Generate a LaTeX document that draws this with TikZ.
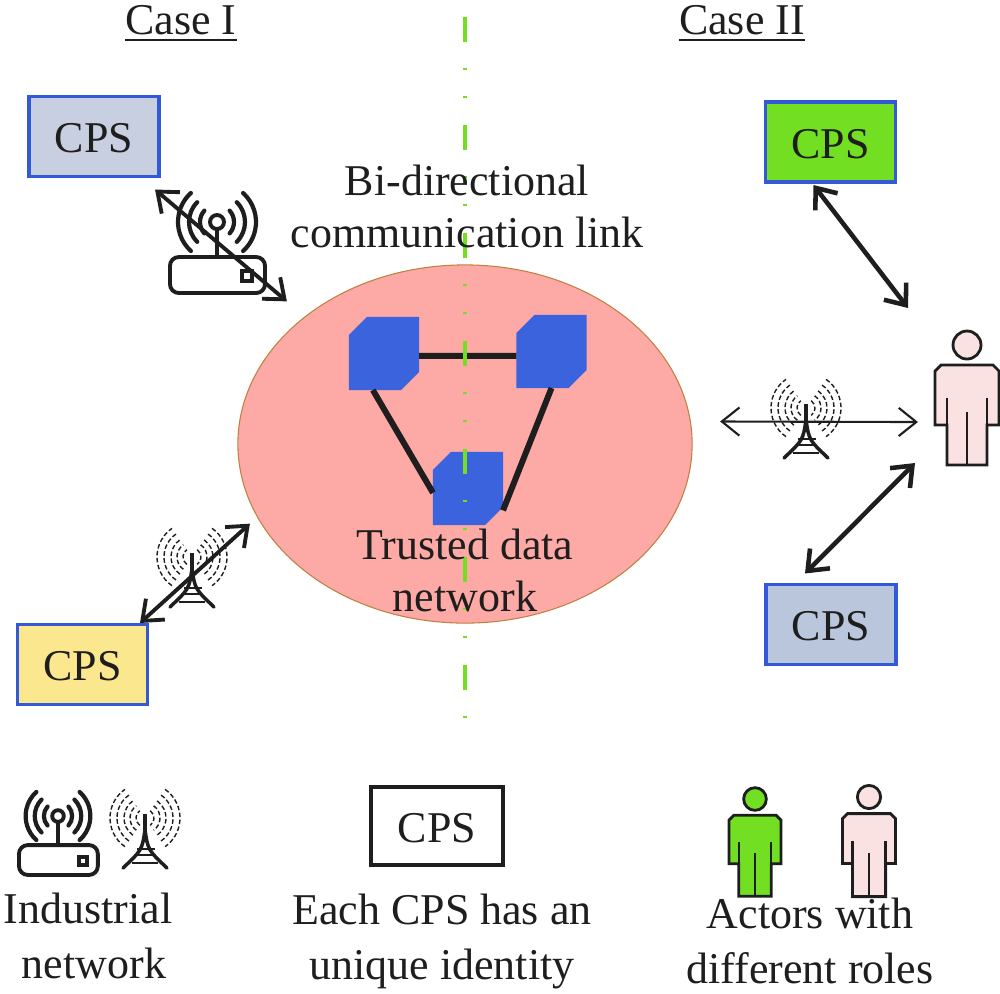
\documentclass[tikz,border=0pt]{standalone}
\usepackage{fontspec}
\setmainfont{Liberation Serif}
\usetikzlibrary{arrows.meta, shapes.geometric}
\definecolor{cpsblue}{HTML}{3459D8}
\definecolor{netblue}{HTML}{3B63DE}
\definecolor{roleGreen}{HTML}{72DF22}
\definecolor{rolePink}{HTML}{FAE2E2}
\definecolor{netPink}{HTML}{FDA9A5}
\definecolor{cpsGray}{HTML}{C8CFE0}
\definecolor{cpsSteel}{HTML}{BAC6DC}
\definecolor{cpsYellow}{HTML}{FAE78E}
\definecolor{ink}{HTML}{1E1E1E}
\tikzset{
  cpsbox/.style={draw=cpsblue, line width=1pt, minimum width=1.3cm, minimum height=.8cm, inner sep=0pt, outer sep=0pt, text height=9.4pt, font=\fontsize{12.5}{14.8}\selectfont, text=ink},
  netnode/.style={minimum width=.7cm, minimum height=.73cm, inner sep=0pt, outer sep=0pt},
  txt/.style={font=\fontsize{12.5}{14.8}\selectfont, text=ink, align=center},
  duplex/.style={{Straight Barb[length=5pt, width=8pt]}-{Straight Barb[length=5pt, width=8pt]}, draw=ink, line width=1.1pt},
  netlink/.style={draw=ink, line width=1.7pt},
  router/.pic={
    \draw[ink, line width=1.1pt] (0,0) circle[radius=7];
    \draw[ink, line width=1.1pt] (0,7)--(0,35);
    \draw[ink, line width=1.1pt, rounded corners=2.5pt] (-47,35) rectangle (48,71);
    \draw[ink, line width=1.1pt] (25,49) rectangle (35,59);
    \foreach \r/\a in {17/42,28/45,39/48} {
      \draw[ink, line width=1.2pt, line cap=round] (-\a:\r) arc[start angle=-\a, end angle=\a, radius=\r];
      \draw[ink, line width=1.2pt, line cap=round] (180-\a:\r) arc[start angle=180-\a, end angle=180+\a, radius=\r];
    }
  },
  tower/.pic={
    \draw[ink, line width=1.3pt] (0,-4)--(0,20);
    \draw[ink, line width=1pt, line cap=round] (0,12) .. controls (-3,32) .. (-22,50);
    \draw[ink, line width=1pt, line cap=round] (0,12) .. controls (3,32) .. (22,50);
    \draw[ink, line width=.8pt] (-8,31)--(10,31) (-9,37)--(9,37) (-13,45)--(13,45);
    \foreach \r in {9,15,21,28,35} {
      \draw[ink, line width=.4pt, dash pattern=on 1.3pt off .7pt] (-55:\r) arc[start angle=-55, end angle=55, radius=\r];
      \draw[ink, line width=.4pt, dash pattern=on 1.3pt off .7pt] (125:\r) arc[start angle=125, end angle=235, radius=\r];
    }
  },
  person/.pic={
    \coordinate (-head) at (0,0);
    \coordinate (-body) at (0,50);
    \path[draw=ink, line width=.8pt, pic actions] (0,0) circle[radius=14];
    \path[draw=ink, line width=.8pt, pic actions] (-26,20)--(26,20)--(32,26)--(32,80)--(20,80)--(20,120)--(-20,120)--(-20,80)--(-32,80)--(-32,26)--cycle;
    \draw[ink, line width=.7pt] (-20,53)--(-20,80) (20,53)--(20,80) (0,67)--(0,120);
  }
}
\begin{document}
\begin{tikzpicture}[x=.01cm, y=-.01cm]
\useasboundingbox (0,0) rectangle (1000,993);
% network in the middle
\node[ellipse, draw=orange!50!gray, line width=.3pt, fill=netPink, minimum width=4.54cm, minimum height=3.58cm, inner sep=0pt, outer sep=0pt] (trusted) at (465,444) {};
\node[netnode] (netA) at (384,353.5) {};
\node[netnode] (netB) at (551.5,351.5) {};
\node[netnode] (netC) at (468,488.5) {};
\foreach \n in {netA,netB,netC}
  \fill[netblue] ([shift={(18,0)}]\n.north west)--(\n.north east)--([shift={(0,-18)}]\n.south east)--([shift={(-18,0)}]\n.south east)--(\n.south west)--([shift={(0,18)}]\n.north west)--cycle;
\draw[netlink] (netA.-4)--(netB.187);
\draw[netlink] (netA.253)--(netC.187);
\draw[netlink] (netB.south)--(netC.328);
% divider
\coordinate (divtop) at (465,17);
\coordinate (divbot) at (465,722);
\draw[roleGreen, line width=1.1pt, dash pattern=on 7.11pt off 7.4pt on .57pt off 7.4pt on .57pt off 7.68pt] (divtop)--(divbot);
% cps boxes
\node[cpsbox, fill=cpsGray] (cpsA) at (94,136.5) {CPS};
\node[cpsbox, fill=roleGreen] (cpsB) at (830.5,142) {CPS};
\node[cpsbox, fill=cpsSteel] (cpsC) at (831,624.5) {CPS};
\node[cpsbox, fill=cpsYellow] (cpsD) at (82.5,664.5) {CPS};
\node[cpsbox, draw=ink, minimum height=.78cm, minimum width=1.32cm] (cpsKey) at (437,826) {CPS};
% actors
\pic[fill=rolePink] (actor) at (967,345) {person};
\pic[fill=roleGreen, scale=.81] (actorG) at (755,799) {person};
\pic[fill=rolePink, scale=.83] (actorP) at (869,797) {person};
% links
\pic at (217,222) {router};
\pic[scale=.83] at (58,816) {router};
\pic at (192,557) {tower};
\pic at (806,408) {tower};
\pic at (145,818) {tower};
\draw[duplex] ([shift={(-4,13)}]cpsA.south east)--([shift={(-17.5,-16)}]trusted.north west);
\draw[duplex] ([shift={(-7.5,-1.5)}]cpsD.north east)--([shift={(-54.5,-47)}]trusted.south west);
\draw[duplex, line width=1.3pt] ([shift={(-17,3)}]cpsB.south)--([shift={(-59,-37)}]actor-head);
\draw[duplex, line width=.6pt] ([shift={(28,-22.5)}]trusted.east)--([shift={(-49,27)}]actor-body);
\draw[duplex, line width=1.3pt] ([shift={(-26,-11)}]cpsC.north)--([shift={(-52,68)}]actor-body);
% texts
\node[txt] (caseL) at (181,24) {\underline{Case I}};
\node[txt] (caseR) at (742,24) {\underline{Case II}};
\node[txt] (linkText) at (467,206) {Bi-directional\\communication link};
\node[txt] (netText) at (465,570) {Trusted data\\network};
\node[txt] (keyA) at (88,936) {Industrial\\[.85pt]\hspace*{.12cm}network};
\node[txt] (keyB) at (442,941) {Each CPS has an\\[.85pt]unique identity};
\node[txt] (keyC) at (810,941) {Actors with\\[.85pt]different roles};
\end{tikzpicture}
\end{document}
